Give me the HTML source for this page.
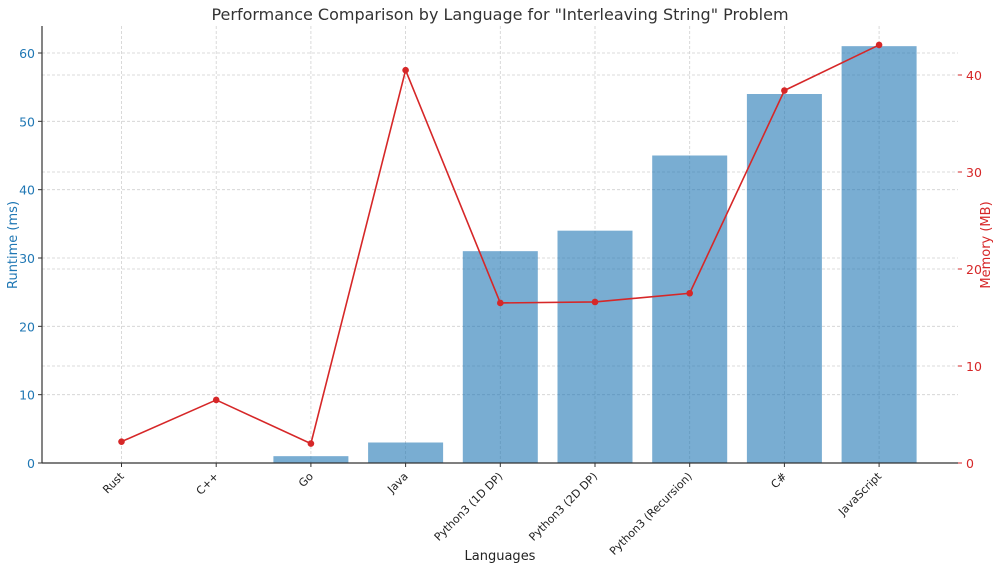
<!DOCTYPE html>
<html><head><meta charset="utf-8"><style>
body{margin:0;background:#fff;}
svg{font-family:"DejaVu Sans","Liberation Sans",sans-serif;}
</style></head><body>
<svg id="chart" width="1000" height="569" viewBox="0 0 1000 569" xmlns="http://www.w3.org/2000/svg">
<text x="500" y="20" text-anchor="middle" font-size="16" fill="#333">Performance Comparison by Language for "Interleaving String" Problem</text>
<text x="500" y="560" text-anchor="middle" font-size="13" fill="#222">Languages</text>
<text transform="translate(17,245) rotate(-90)" text-anchor="middle" font-size="13" fill="#1f77b4">Runtime (ms)</text>
<text transform="translate(990,245) rotate(-90)" text-anchor="middle" font-size="13" fill="#d62728">Memory (MB)</text>
<g id="grid"></g><g id="bars"></g><g id="line"></g><g id="axes"></g>
</svg>
<script>
const categories=["Rust","C++","Go","Java","Python3 (1D DP)","Python3 (2D DP)","Python3 (Recursion)","C#","JavaScript"];
const runtime=[0,0,1,3,31,34,45,54,61];
const memory=[2.2,6.5,2.0,40.5,16.5,16.6,17.5,38.4,43.1];
const leftTicks=[0,10,20,30,40,50,60];
const rightTicks=[0,10,20,30,40];
const NS="http://www.w3.org/2000/svg";
const L=42,R=958,T=26,B=463;
const yL=v=>B-v*(410/60);
const yR=v=>B-v*(388/40);
const step=94.7, x0=121.5;
const xC=i=>x0+i*step;
function mk(t,a,p){const e=document.createElementNS(NS,t);for(const k in a)e.setAttribute(k,a[k]);p.appendChild(e);return e;}
const grid=document.getElementById('grid'),bars=document.getElementById('bars'),line=document.getElementById('line'),axes=document.getElementById('axes');
const gs={stroke:"#d0d0d0","stroke-width":0.8,"stroke-dasharray":"3,2"};
categories.forEach((c,i)=>{const g=mk('line',Object.assign({x1:xC(i),x2:xC(i),y1:T,y2:B},gs),grid);

});
leftTicks.forEach(v=>{const g=mk('line',Object.assign({x1:L,x2:R,y1:yL(v),y2:yL(v)},gs),grid);


const t=mk('text',{x:L-7,y:yL(v)+5,"text-anchor":"end","font-size":12.5,fill:"#1f77b4"},axes);t.textContent=v;


mk('line',{x1:L-4,x2:L,y1:yL(v),y2:yL(v),stroke:"#333"},axes);});
rightTicks.forEach(v=>{const g=mk('line',Object.assign({x1:L,x2:R,y1:yR(v),y2:yR(v)},gs),grid);


const t=mk('text',{x:R+8,y:yR(v)+5,"font-size":12.5,fill:"#d62728"},axes);t.textContent=v;


mk('line',{x1:R,x2:R+4,y1:yR(v),y2:yR(v),stroke:"#d62728"},axes);});
const bw=75;
runtime.forEach((v,i)=>{const r=mk('rect',{x:xC(i)-bw/2,y:yL(v),width:bw,height:B-yL(v),fill:"#1f77b4","fill-opacity":0.6},bars);

});
const pl=mk('polyline',{points:memory.map((v,i)=>xC(i)+","+yR(v)).join(" "),fill:"none",stroke:"#d62728","stroke-width":1.6},line);


memory.forEach((v,i)=>{const c=mk('circle',{cx:xC(i),cy:yR(v),r:3.3,fill:"#d62728"},line);

});
categories.forEach((c,i)=>{mk('line',{x1:xC(i),x2:xC(i),y1:B,y2:B+4,stroke:"#333"},axes);
const t=mk('text',{x:0,y:0,"text-anchor":"end","font-size":11,fill:"#222",transform:`translate(${xC(i)+3},${B+14}) rotate(-45)`},axes);t.textContent=c;

});
const la=mk('line',{x1:L,x2:L,y1:T,y2:B,stroke:"#333","stroke-width":1.2},axes);


const ba=mk('line',{x1:L,x2:R,y1:B,y2:B,stroke:"#333","stroke-width":1.2},axes);


</script>
</body></html>
